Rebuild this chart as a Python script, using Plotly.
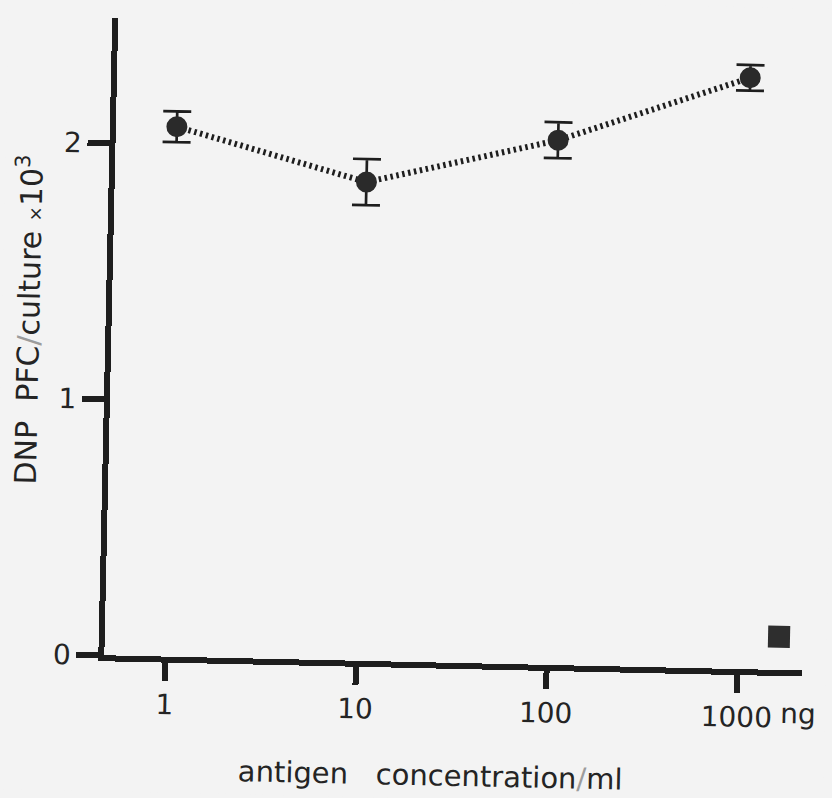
import plotly.graph_objects as go

# DNP PFC response per culture versus antigen concentration (ng/ml)
conc = [1, 10, 100, 1000]
pfc = [2.07, 1.87, 2.05, 2.31]
pfc_err = [0.06, 0.09, 0.07, 0.05]

# control culture, plotted beyond the highest dose
ctrl_conc = [1640]
ctrl_pfc = [0.13]

x_ticks = [1, 10, 100, 1000]
x_ticklabels = ["1", "10", "100", "1000"]
y_ticks = [0, 1, 2]
y_ticklabels = ["0", "1", "2"]

INK = "#1e1e1e"
TEXT = "#242424"
PAPER = "#f3f3f3"
FONT = "DejaVu Sans"
SLASH = '<span style="color:#9c9c9c">/</span>'

fig = go.Figure()

fig.add_trace(go.Scatter(
    x=conc, y=pfc, mode="lines+markers",
    line=dict(color=INK, width=6, dash="2.5px,3.5px"),
    marker=dict(symbol="circle", size=21, color="#2a2a2a"),
    error_y=dict(type="data", array=pfc_err, color=INK, thickness=2.7, width=14),
    showlegend=False, cliponaxis=False,
))

fig.add_trace(go.Scatter(
    x=ctrl_conc, y=ctrl_pfc, mode="markers",
    marker=dict(symbol="square", size=22, color="#2e2e2e"),
    showlegend=False, cliponaxis=False,
))

axis_common = dict(
    showline=True, linecolor=INK, linewidth=6,
    ticks="outside", tickcolor=INK, tickwidth=6,
    showgrid=False, zeroline=False,
    tickfont=dict(family=FONT, size=28, color=TEXT),
)

fig.update_xaxes(
    type="log", range=[-0.320, 3.340],
    tickmode="array", tickvals=x_ticks, ticktext=x_ticklabels,
    ticklen=18, **axis_common,
)
fig.update_yaxes(
    range=[0, 2.488],
    tickmode="array", tickvals=y_ticks, ticktext=y_ticklabels,
    ticklen=22, **axis_common,
)

# unit after the last tick label
fig.add_annotation(
    x=3, xref="x", xshift=62, y=0, yref="paper", yshift=-43,
    text="ng", showarrow=False, xanchor="center", yanchor="middle",
    font=dict(family=FONT, size=28, color=TEXT),
)
fig.add_annotation(
    x=0.47, xref="paper", y=-0.177, yref="paper",
    text="antigen\u00a0\u00a0\u00a0concentration" + SLASH + "ml", showarrow=False,
    xanchor="center", yanchor="middle",
    font=dict(family=FONT, size=29, color=TEXT),
)
fig.add_annotation(
    x=-0.121, xref="paper", y=0.5235, yref="paper",
    text="DNP\u00a0\u00a0PFC" + SLASH + "culture <span style='font-size:18px'>\u00d7</span>10<sup>3</sup>",
    textangle=-90, showarrow=False, xanchor="center", yanchor="middle",
    font=dict(family=FONT, size=30, color=TEXT),
)

fig.update_layout(
    width=832, height=798,
    margin=dict(l=110, r=24, t=25, b=136),
    paper_bgcolor=PAPER, plot_bgcolor=PAPER,
    font=dict(family=FONT, color=TEXT),
)

# the printed page sits slightly turned; reproduce that tilt around the page centre
tilt = """
var gd = document.getElementById('{plot_id}');
document.documentElement.style.background = '#f3f3f3';
document.documentElement.style.overflow = 'hidden';
document.body.style.background = '#f3f3f3';
document.body.style.margin = '0';
document.body.style.overflow = 'hidden';
gd.style.transformOrigin = '416px 399px';
gd.style.transform = 'rotate(1.25deg)';
"""

fig.write_html("out.html", post_script=tilt)
